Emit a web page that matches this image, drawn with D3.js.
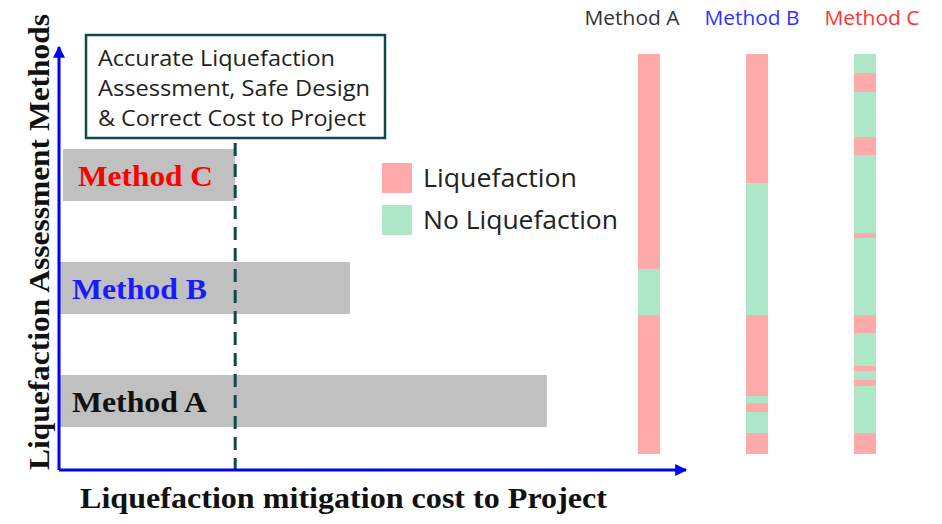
<html>
<head>
<script src="https://cdnjs.cloudflare.com/ajax/libs/d3/7.8.5/d3.min.js"></script>
<style>
  body { margin: 0; background: #fff; }
</style>
</head>
<body>
<script>
// bar chart data (arbitrary cost units, 0-100)
var methods = ["Method C", "Method B", "Method A"];
var costs = [28.1, 46.4, 77.8];
var labelColors = ["#ff0000", "#1a1aff", "#111111"];
var accurateCost = 28.1;

// depth strips: boundaries (0 = top, 100 = bottom) and class per interval
var stripNames = ["Method A", "Method B", "Method C"];
var stripTitleColors = ["#333333", "#3333ff", "#ff3333"];
var breaksA = [0, 53.75, 65.25, 100];
var classA = ["L", "N", "L"];
var breaksB = [0, 32.25, 65.25, 85.5, 87.25, 89.5, 94.75, 100];
var classB = ["L", "N", "L", "N", "L", "N", "L"];
var breaksC = [0, 4.75, 9.5, 20.75, 25.25, 44.75, 46, 65.25, 69.75, 78, 79.25, 81.5, 83, 94.75, 100];
var classC = ["N", "L", "N", "L", "N", "L", "N", "L", "N", "L", "N", "L", "N", "L"];

var legendKeys = ["L", "N"];
var legendLabels = ["Liquefaction", "No Liquefaction"];

var W = 942, H = 524;
var pink = "#ffaaaa", green = "#aee6c8";
var teal = "#0f4a4a";
var colorOf = function(c) { return c == "L" ? pink : green; };

var svg = d3.select("body").append("svg").attr("width", W).attr("height", H);

var x0 = 59, yAxisY = 470;
var xScale = d3.scaleLinear().domain([0, 100]).range([x0, 686]);
var yScale = d3.scalePoint().domain(methods).range([175, 401]);
var barH = 52;

// bars
svg.selectAll("rect.bar")
    .data(methods)
    .enter()
    .append("rect")
    .attr("class", "bar")
    .attr("x", function(d, i) { return i == 0 ? xScale(0) + 4 : xScale(0); })
    .attr("y", function(d) { return yScale(d) - barH / 2; })
    .attr("width", function(d, i) { return xScale(costs[i]) - xScale(0) - (i == 0 ? 4 : 0); })
    .attr("height", barH)
    .attr("fill", "#c0c0c0");

svg.selectAll("text.blabel")
    .data(methods)
    .enter()
    .append("text")
    .attr("class", "blabel")
    .attr("x", function(d, i) { return i == 0 ? 78 : 72; })
    .attr("y", function(d) { return yScale(d) + 11; })
    .attr("font-family", "Liberation Serif")
    .attr("font-weight", "bold")
    .attr("font-size", 30)
    .attr("textLength", 135)
    .attr("lengthAdjust", "spacingAndGlyphs")
    .attr("fill", function(d, i) { return labelColors[i]; })
    .text(function(d) { return d; });

// dashed line
svg.append("line")
    .attr("x1", xScale(accurateCost)).attr("x2", xScale(accurateCost))
    .attr("y1", 143).attr("y2", yAxisY)
    .attr("stroke", teal).attr("stroke-width", 3)
    .attr("stroke-dasharray", "13,8");

// annotation box
svg.append("rect")
    .attr("x", 86).attr("y", 35).attr("width", 299).attr("height", 103)
    .attr("fill", "#fff").attr("stroke", teal).attr("stroke-width", 2.5);

var boxLines = ["Accurate Liquefaction", "Assessment, Safe Design", "& Correct Cost to Project"];
var boxWidths = [237, 272, 268];
svg.selectAll("text.box")
    .data(boxLines)
    .enter()
    .append("text")
    .attr("class", "box")
    .attr("x", 98)
    .attr("y", function(d, i) { return 66 + i * 30; })
    .attr("font-family", "Open Sans")
    .attr("font-size", 22)
    .attr("textLength", function(d, i) { return boxWidths[i]; })
    .attr("lengthAdjust", "spacingAndGlyphs")
    .attr("fill", "#222")
    .text(function(d) { return d; });

// axes with arrows
var defs = svg.append("defs");
defs.append("marker")
    .attr("id", "arrow")
    .attr("viewBox", "0 0 10 10")
    .attr("refX", 9).attr("refY", 5)
    .attr("markerWidth", 5).attr("markerHeight", 4)
    .attr("orient", "auto")
    .append("path")
    .attr("d", "M0,0L10,5L0,10z")
    .attr("fill", "#0000ff");

svg.append("line")
    .attr("x1", x0).attr("y1", yAxisY).attr("x2", 686).attr("y2", yAxisY)
    .attr("stroke", "#0000ff").attr("stroke-width", 3)
    .attr("marker-end", "url(#arrow)");
svg.append("line")
    .attr("x1", x0).attr("y1", yAxisY).attr("x2", x0).attr("y2", 47)
    .attr("stroke", "#0000ff").attr("stroke-width", 3)
    .attr("marker-end", "url(#arrow)");

svg.append("text")
    .attr("x", 80).attr("y", 508)
    .attr("font-family", "Liberation Serif")
    .attr("font-weight", "bold")
    .attr("font-size", 30)
    .attr("textLength", 527)
    .attr("lengthAdjust", "spacingAndGlyphs")
    .attr("fill", "#111")
    .text("Liquefaction mitigation cost to Project");

svg.append("text")
    .attr("transform", "translate(49,470) rotate(-90)")
    .attr("font-family", "Liberation Serif")
    .attr("font-weight", "bold")
    .attr("font-size", 30)
    .attr("textLength", 456)
    .attr("lengthAdjust", "spacingAndGlyphs")
    .attr("fill", "#111")
    .text("Liquefaction Assessment Methods");

// legend
var legend = svg.selectAll("g.legend")
    .data(legendKeys)
    .enter()
    .append("g")
    .attr("class", "legend")
    .attr("transform", function(d, i) { return "translate(382," + (163 + i * 42) + ")"; });
legend.append("rect")
    .attr("width", 30).attr("height", 30)
    .attr("fill", colorOf);
legend.append("text")
    .attr("x", 41).attr("y", 24)
    .attr("font-family", "Open Sans")
    .attr("font-size", 25)
    .attr("textLength", function(d, i) { return i == 0 ? 154 : 195; })
    .attr("lengthAdjust", "spacingAndGlyphs")
    .attr("fill", "#222")
    .text(function(d, i) { return legendLabels[i]; });

// strips
var depth = d3.scaleLinear().domain([0, 100]).range([54, 454]);
var stripX = d3.scalePoint().domain(stripNames).range([649, 865]);
var stripW = 22;
var stripData = [[breaksA, classA], [breaksB, classB], [breaksC, classC]];

stripNames.forEach(function(name, k) {
    var br = stripData[k][0], cl = stripData[k][1];
    var g = svg.append("g");
    g.selectAll("rect")
        .data(cl)
        .enter()
        .append("rect")
        .attr("x", stripX(name) - stripW / 2)
        .attr("y", function(d, i) { return depth(br[i]); })
        .attr("width", stripW)
        .attr("height", function(d, i) { return depth(br[i + 1]) - depth(br[i]); })
        .attr("fill", colorOf);
});

var titleX = [632, 752, 872];
svg.selectAll("text.stitle")
    .data(stripNames)
    .enter()
    .append("text")
    .attr("class", "stitle")
    .attr("x", function(d, i) { return titleX[i]; })
    .attr("y", 25)
    .attr("text-anchor", "middle")
    .attr("font-family", "Open Sans")
    .attr("font-size", 20)
    .attr("textLength", 95)
    .attr("lengthAdjust", "spacingAndGlyphs")
    .attr("fill", function(d, i) { return stripTitleColors[i]; })
    .text(function(d) { return d; });
</script>
</body>
</html>
